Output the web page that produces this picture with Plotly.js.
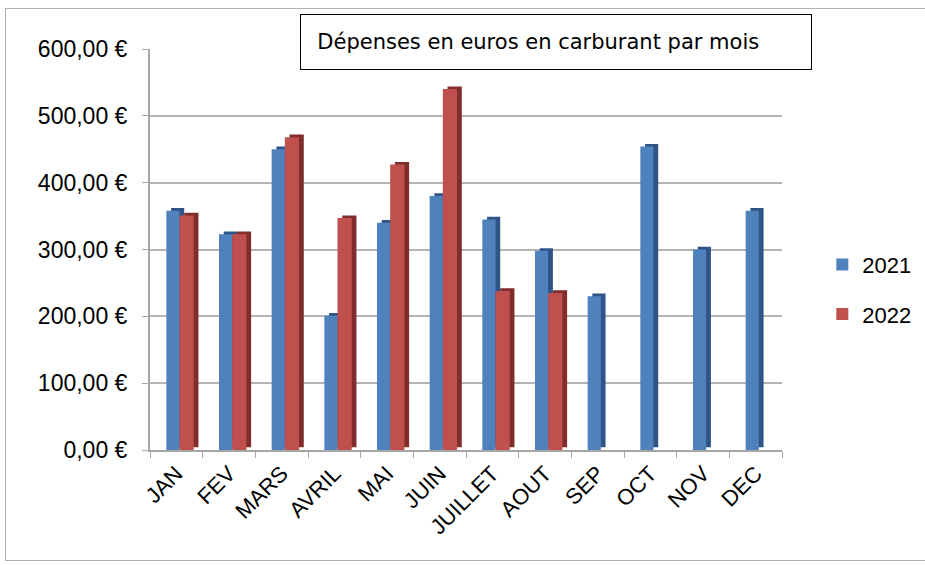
<!DOCTYPE html>
<html>
<head>
<meta charset="utf-8">
<script src="https://cdn.plot.ly/plotly-3.0.1.min.js"></script>
<style>
  html, body { margin: 0; padding: 0; background: #ffffff; }
  #chart { position: absolute; left: 0; top: 0; width: 925px; height: 565px; }
  #frame { position: absolute; left: 5px; top: 8px; width: 940px; height: 551px;
           border: 1px solid #b0b0b0; pointer-events: none; }
</style>
</head>
<body>
<div id="chart"></div>
<div id="frame"></div>
<script>
// months and monthly fuel spend (euros)
const months = ['JAN', 'FEV', 'MARS', 'AVRIL', 'MAI', 'JUIN', 'JUILLET', 'AOUT', 'SEP', 'OCT', 'NOV', 'DEC'];
const spend2021 = [358, 323, 450, 201, 340, 380, 345, 298, 230, 454, 300, 358];
const spend2022 = [351, 323, 468, 347, 427, 540, 238, 235, null, null, null, null];

const yTicks = [0, 100, 200, 300, 400, 500, 600];
const yTickText = ['0,00 €', '100,00 €', '200,00 €', '300,00 €', '400,00 €', '500,00 €', '600,00 €'];

const blue = '#4f81bd', blueDark = '#2f5487';
const red = '#c0504d', redDark = '#7f2e2c';
const labelFont = 'Liberation Sans, Arial, sans-serif';

// fake 3D depth: a darker copy shifted right and up behind each bar
function side(vals, off, w, color) {
    return {
        x: months, y: vals, base: 4, type: 'bar',
        offset: off + 0.09, width: w,
        marker: { color: color }, showlegend: false, hoverinfo: 'skip'
    };
}

const traces = [
    side(spend2021, -0.19, 0.25, blueDark),
    {
        x: months, y: spend2021, type: 'bar', name: '2021', legendgroup: 'a',
        offset: -0.19, width: 0.25, marker: { color: blue }
    },
    side(spend2022, 0.06, 0.27, redDark),
    {
        x: months, y: spend2022, type: 'bar', name: '2022', legendgroup: 'b',
        offset: 0.06, width: 0.27, marker: { color: red }
    }
];

const layout = {
    width: 925, height: 565,
    margin: { l: 150, r: 143, t: 49, b: 115, autoexpand: false },
    paper_bgcolor: '#ffffff', plot_bgcolor: '#ffffff',
    barmode: 'overlay',
    showlegend: true,
    legend: {
        xref: 'container', x: 0.889, xanchor: 'left', y: 0.4, yanchor: 'middle',
        traceorder: 'grouped', tracegroupgap: 18,
        font: { family: labelFont, size: 22, color: '#000000' }
    },
    xaxis: {
        type: 'category',
        tickangle: -45,
        tickfont: { family: labelFont, size: 22, color: '#000000' },
        showgrid: false,
        showline: true, linecolor: '#a6a6a6', linewidth: 2,
        ticks: 'outside', tickcolor: '#a6a6a6', ticklen: 6, tickwidth: 1,
        tickson: 'boundaries'
    },
    yaxis: {
        range: [0, 600],
        tickvals: yTicks, ticktext: yTickText,
        tickfont: { family: labelFont, size: 23, color: '#000000' },
        showgrid: true, gridcolor: '#b4b4b4', gridwidth: 2,
        zeroline: false,
        showline: true, linecolor: '#a6a6a6', linewidth: 2,
        ticks: 'outside', tickcolor: '#a6a6a6', ticklen: 6,
        ticklabelstandoff: 10
    },
    annotations: [{
        xref: 'paper', yref: 'paper', x: 0.6424, y: 1.017,
        xanchor: 'center', yanchor: 'middle',
        text: '&nbsp;&nbsp;Dépenses en euros en carburant par mois',
        showarrow: false, align: 'left',
        width: 504, height: 48,
        bgcolor: '#ffffff', bordercolor: '#000000', borderwidth: 1, borderpad: 3,
        font: { family: 'Comic Sans MS, DejaVu Sans, sans-serif', size: 21, color: '#000000' }
    }]
};

Plotly.newPlot('chart', traces, layout, { displayModeBar: false });
</script>
</body>
</html>
